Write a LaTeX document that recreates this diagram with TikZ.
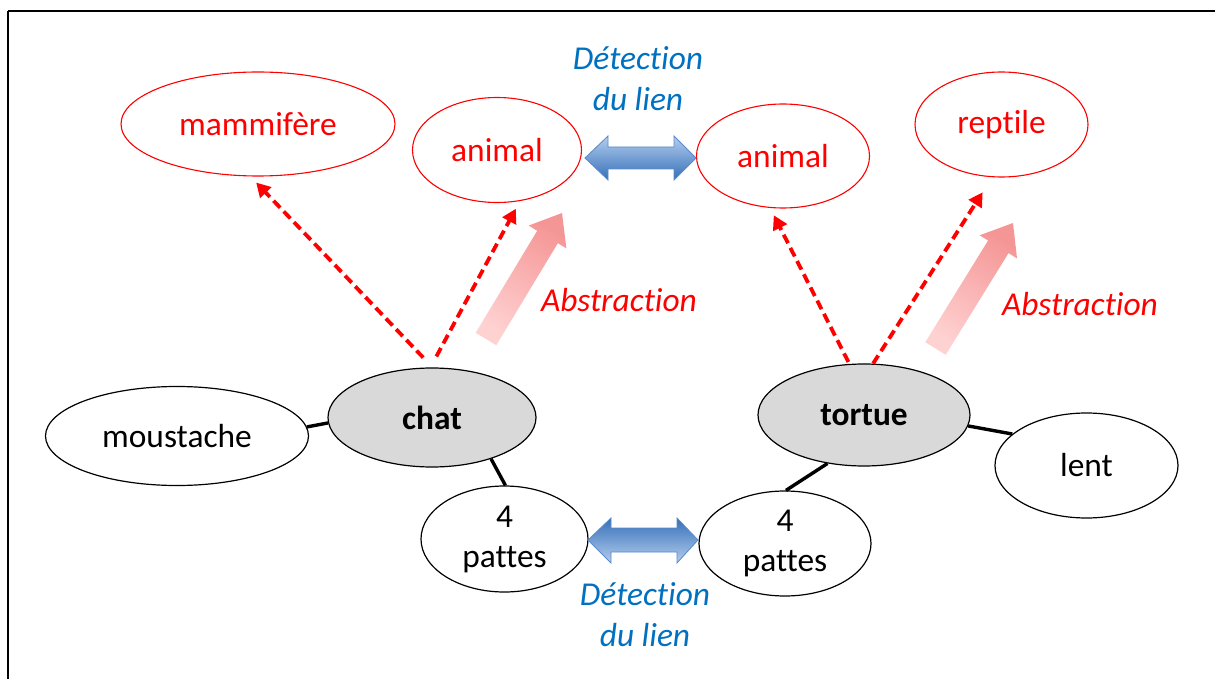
\documentclass[tikz,border=0pt]{standalone}
\usepackage{fontspec}
\setmainfont[RawFeature={-liga;-clig;-dlig;-calt;-hlig}]{Carlito}
\usetikzlibrary{shapes.geometric,arrows.meta}
\definecolor{txtblue}{HTML}{0070C0}
\definecolor{bluelight}{HTML}{B4CDEE}
\definecolor{bluedark}{HTML}{3470B8}
\definecolor{blueline}{HTML}{5A8ACB}
\definecolor{pinklight}{HTML}{FFD2D2}
\definecolor{pinkdark}{HTML}{F59696}
\begin{document}
\begin{tikzpicture}[x=0.5pt,y=-0.5pt,
  font=\fontsize{16.7pt}{20pt}\selectfont,
  redell/.style={ellipse, draw=red, line width=0.55pt, text=red, inner sep=0pt},
  blkell/.style={ellipse, draw=black, line width=0.6pt, inner sep=0pt, align=center},
  grayell/.style={blkell, fill=gray!30, font=\fontsize{16.7pt}{20pt}\selectfont\bfseries},
  link/.style={line width=1.7pt},
  abst/.style={red, line width=1.9pt, dash pattern=on 4.8pt off 2.6pt, -{Triangle[length=7pt,width=7.5pt]}},
  bluelab/.style={text=txtblue, font=\fontsize{16.7pt}{20.5pt}\selectfont\itshape, align=center},
  redlab/.style={text=red, font=\fontsize{16.7pt}{20pt}\selectfont\itshape},
  dblarrow/.style={draw=blueline, line width=0.4pt}
]
\useasboundingbox (0,0) rectangle (1215,679);
\clip (0,0) rectangle (1215,679);
\fill[white] (0,0) rectangle (1215,679);
% frame
\draw[line width=1.3pt] (8,11) -- (1260,11);
\draw[line width=1.3pt] (8,11) -- (8,720);

% red concept nodes
\node[redell, minimum width=137pt, minimum height=52pt] (mam) at (258,124) {mammifère};
\node[redell, minimum width=84.5pt, minimum height=52.5pt] (animL) at (497,150) {animal};
\node[redell, minimum width=86.5pt, minimum height=52pt] (animR) at (783,156) {animal};
\node[redell, minimum width=86.5pt, minimum height=52.5pt] (rep) at (1001.5,124.5) {rept\kern0pt ile};

% central nodes
\node[grayell, minimum width=104pt, minimum height=49.5pt] (chat) at (432,417.5) {chat};
\node[grayell, minimum width=106pt, minimum height=51pt] (tortue) at (864,415) {tortue};

% attribute nodes
\node[blkell, minimum width=131.5pt, minimum height=49.5pt] (mous) at (177,436) {moustache};
\node[blkell, minimum width=83.5pt, minimum height=53pt] (patL) at (504.5,539) {4\\pattes};
\node[blkell, minimum width=86pt, minimum height=52.5pt] (patR) at (785,543.5) {4\\pattes};
\node[blkell, minimum width=91.5pt, minimum height=52.5pt] (lent) at (1086.5,465.5) {lent};

% links
\draw[link] (mous.4) -- (chat.183);
\draw[link] (chat.-35) -- (patL.89);
\draw[link] (tortue.-127) -- (patR.89);
\draw[link] (tortue.-6) -- (lent.157);

% abstraction dashed arrows
\draw[abst] ([yshift=5pt]chat.100) -- ([yshift=-3pt]mam.-92);
\draw[abst] ([yshift=5.5pt]chat.85) -- ([yshift=-3.5pt]animL.-70);
\draw[abst] ([yshift=1pt]tortue.107) -- ([yshift=-3.5pt]animR.-100);
\draw[abst] (tortue.80) -- ([yshift=-8pt]rep.-110);

% pink abstraction block arrows
\shade[top color=pinkdark, bottom color=pinklight, shading angle=-31]
  (475.7,332.8) -- (537.2,230.8) -- (528.6,225.6) -- (562,213) -- (566.4,248.4)
  -- (557.8,243.2) -- (496.3,345.2) -- cycle;
\shade[top color=pinkdark, bottom color=pinklight, shading angle=-32]
  (925.3,342.2) -- (988.1,240.5) -- (979.6,235.3) -- (1013,223) -- (1017,258.4)
  -- (1008.5,253.1) -- (945.7,354.8) -- cycle;

% blue double arrows
\shade[dblarrow, top color=bluelight, bottom color=bluedark]
  (585,158) -- (608,136) -- (608,147) -- (674,147) -- (674,136) -- (696,158)
  -- (674,180) -- (674,169) -- (608,169) -- (608,180) -- cycle;
\shade[dblarrow, top color=bluedark, bottom color=bluelight]
  (588,540) -- (611,518) -- (611,528) -- (677,528) -- (677,518) -- (698,540)
  -- (677,563) -- (677,552) -- (611,552) -- (611,563) -- cycle;

% labels
\node[bluelab] (detTop) at (638,79) {Détect\kern0pt ion\\du lien};
\node[bluelab] (detBot) at (645,615) {Détect\kern0pt ion\\du lien};
\node[redlab] (absL) at (619,300) {Abstract\kern0pt ion};
\node[redlab] (absR) at (1080,304) {Abstract\kern0pt ion};
\end{tikzpicture}
\end{document}
